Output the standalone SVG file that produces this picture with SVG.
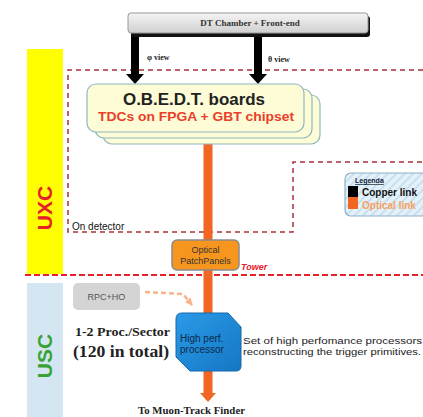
<svg xmlns="http://www.w3.org/2000/svg" width="423" height="417" viewBox="0 0 423 417">
<defs>
<linearGradient id="gGray" x1="0" y1="0" x2="0" y2="1"><stop offset="0" stop-color="#f4f4f4"/><stop offset="1" stop-color="#cfcfcf"/></linearGradient>
<linearGradient id="gBlue" x1="0" y1="0" x2="1" y2="1"><stop offset="0" stop-color="#2a9ae8"/><stop offset="1" stop-color="#1577c4"/></linearGradient>
<pattern id="hatch" width="6" height="6" patternUnits="userSpaceOnUse" patternTransform="rotate(45)"><rect width="6" height="6" fill="#e4f1f9"/><rect width="2" height="6" fill="#c8e0ef"/></pattern>
<marker id="ahDash" viewBox="0 0 10 10" refX="9" refY="5" markerWidth="3" markerHeight="3" orient="auto" markerUnits="strokeWidth"><path d="M0,0 L10,5 L0,10 z" fill="#f7b48a"/></marker>
</defs>
<style>
.serifb{font-family:"Liberation Serif",serif;font-weight:bold}
.sans{font-family:"Liberation Sans",Arial,sans-serif}
.sansb{font-family:"Liberation Sans",Arial,sans-serif;font-weight:bold}
.board{fill:#fdfcd6;stroke:#8fb8c0;stroke-width:1.2}
.copper{stroke:#000;stroke-width:8}
.optical{stroke:#f26522;stroke-width:9}
</style>
<rect width="423" height="417" fill="#fff"/>

<g id="zones">
<rect x="27" y="49" width="36" height="225" fill="#ffff00"/>
<rect x="27" y="283" width="36" height="134" fill="#d3e6f2"/>
<text class="sansb" font-size="21" fill="#e8202a" text-anchor="middle" transform="translate(52,208) rotate(-90)">UXC</text>
<text class="sansb" font-size="21" fill="#3aa335" text-anchor="middle" transform="translate(52,356) rotate(-90)">USC</text>
<path d="M423,70 L68,70 L68,232 L293,232 L293,162 L423,162" fill="none" stroke="#a8303a" stroke-width="1.5" stroke-dasharray="5,4"/>
<text class="sans" x="72" y="230" font-size="10" fill="#111">On detector</text>
<line x1="25" y1="275" x2="423" y2="275" stroke="#e8202a" stroke-width="2" stroke-dasharray="6,3"/>
<text class="sansb" x="241" y="270" font-size="9" font-style="italic" fill="#e8202a">Tower</text>
</g>

<g id="connectors">
<line class="copper" x1="135" y1="34" x2="135" y2="75"/>
<path d="M126,74 L144,74 L135,84 Z" fill="#000"/>
<line class="copper" x1="258" y1="34" x2="258" y2="75"/>
<path d="M249,74 L267,74 L258,84 Z" fill="#000"/>
<line class="optical" x1="208" y1="140" x2="208" y2="394"/>
<path d="M200,393 L216,393 L208,402 Z" fill="#f26522"/>
<path d="M145,292 L183,294 L192,305" fill="none" stroke="#f7b48a" stroke-width="2.5" stroke-dasharray="5,3" marker-end="url(#ahDash)"/>
<text class="serifb" x="147" y="60" font-size="8" fill="#222">φ view</text>
<text class="serifb" x="268" y="62" font-size="8" fill="#222">θ view</text>
</g>

<g id="dt-chamber">
<rect x="131" y="16" width="239" height="21" rx="3" fill="#111"/>
<rect x="128" y="13" width="240" height="20" rx="3" fill="url(#gGray)" stroke="#999" stroke-width="1"/>
<text class="serifb" x="250" y="26" font-size="9" fill="#333" text-anchor="middle">DT Chamber + Front-end</text>
</g>

<g id="obedt">
<rect class="board" x="103" y="95" width="217" height="49" rx="9"/>
<rect class="board" x="95" y="89" width="217" height="49" rx="9"/>
<rect class="board" x="87" y="84" width="217" height="48" rx="9"/>
<text class="sansb" x="194" y="105" font-size="16" fill="#222" text-anchor="middle" textLength="142" lengthAdjust="spacingAndGlyphs">O.B.E.D.T. boards</text>
<text class="sansb" x="196" y="121" font-size="12" fill="#e8402a" text-anchor="middle" textLength="196" lengthAdjust="spacingAndGlyphs">TDCs on FPGA + GBT chipset</text>
</g>

<g id="legend">
<rect x="345" y="173" width="90" height="43" rx="6" fill="url(#hatch)" stroke="#8fb0c8" stroke-width="1.2"/>
<text class="sansb" x="355" y="183" font-size="7" fill="#123" text-decoration="underline">Legenda</text>
<rect x="348" y="186" width="10" height="11" fill="#000"/>
<rect x="348" y="197" width="10" height="12" fill="#f26522"/>
<text class="sansb" x="362" y="196" font-size="10" fill="#111">Copper link</text>
<text class="sansb" x="362" y="209" font-size="10" fill="#f7a060">Optical link</text>
</g>

<g id="patchpanels">
<rect x="172" y="240" width="67" height="30" rx="5" fill="#f7961e" stroke="#8a8a8a" stroke-width="1.5"/>
<text class="sans" x="205.5" y="253" font-size="9" fill="#333" text-anchor="middle">Optical</text>
<text class="sans" x="205.5" y="264" font-size="9" fill="#333" text-anchor="middle">PatchPanels</text>
</g>

<g id="rpc-ho">
<rect x="73" y="283" width="67" height="27" rx="5" fill="#d4d4d4"/>
<text class="sans" x="106.5" y="300" font-size="9" fill="#555" text-anchor="middle">RPC+HO</text>
</g>

<g id="processor">
<path d="M182,313 L228,313 L241,327 L241,366 Q241,371 236,371 L190,371 L176,357 L176,319 Q176,313 182,313 Z" fill="url(#gBlue)" stroke="#1468aa" stroke-width="1"/>
<text class="sans" x="180" y="342" font-size="10" fill="#0b2a4a">High perf.</text>
<text class="sans" x="180" y="353" font-size="10" fill="#0b2a4a">processor</text>
</g>

<g id="texts">
<text class="serifb" x="75" y="336" font-size="12" fill="#222" textLength="95" lengthAdjust="spacingAndGlyphs">1-2 Proc./Sector</text>
<text class="serifb" x="73" y="357" font-size="17" fill="#222" textLength="96" lengthAdjust="spacingAndGlyphs">(120 in total)</text>
<text class="sans" x="243" y="344" font-size="9" fill="#222" textLength="179" lengthAdjust="spacingAndGlyphs">Set of high perfomance processors</text>
<text class="sans" x="243" y="355" font-size="9" fill="#222" textLength="178" lengthAdjust="spacingAndGlyphs">reconstructing the trigger primitives.</text>
<text class="serifb" x="138" y="414" font-size="11" fill="#222" textLength="107" lengthAdjust="spacingAndGlyphs">To Muon-Track Finder</text>
</g>
</svg>
